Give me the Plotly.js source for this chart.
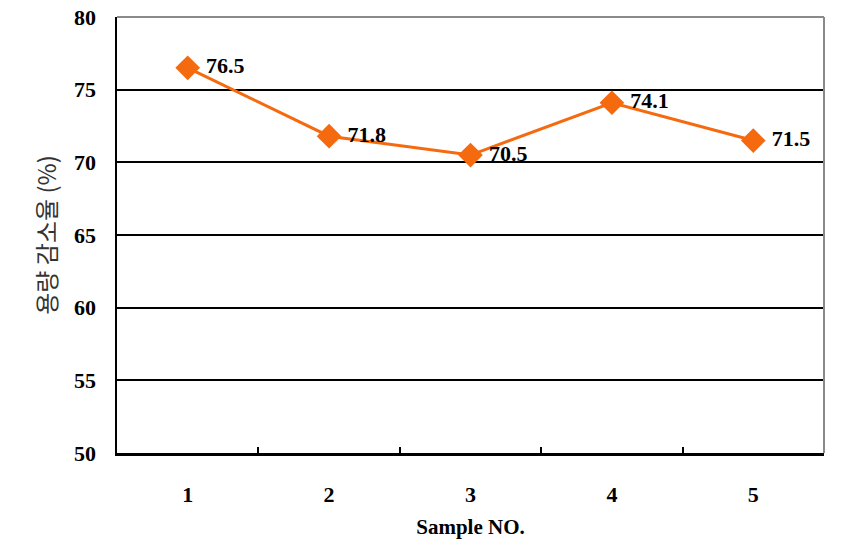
<!DOCTYPE html>
<html>
<head>
<meta charset="utf-8">
<script src="https://cdn.plot.ly/plotly-3.0.1.min.js"></script>
<style>html,body{margin:0;padding:0;background:#fff;}#chart{width:843px;height:552px;}</style>
</head>
<body>
<div id="chart"></div>
<script>
const samples = ["1", "2", "3", "4", "5"];
const reduction = [76.5, 71.8, 70.5, 74.1, 71.5];
const labels = ["76.5", "71.8", "70.5", "74.1", "71.5"];
const yTicks = [50, 55, 60, 65, 70, 75, 80];

const serif = "'Liberation Serif', 'Times New Roman', serif";

const trace = {
  x: samples,
  y: reduction,
  type: "scatter",
  mode: "lines+markers+text",
  text: labels,
  texttemplate: " %{text}",
  textposition: "middle right",
  textfont: {family: serif, size: 22, color: "#000", weight: "bold"},
  line: {color: "#F56A0F", width: 3},
  marker: {symbol: "diamond", size: 19, color: "#F56A0F"},
  cliponaxis: false,
  hoverinfo: "none"
};

const layout = {
  width: 843,
  height: 552,
  margin: {l: 117, r: 19, t: 17, b: 99},
  paper_bgcolor: "#fff",
  plot_bgcolor: "#fff",
  showlegend: false,
  xaxis: {
    type: "category",
    range: [-0.5, 4.5],
    tickson: "boundaries",
    ticks: "inside",
    ticklen: 6,
    tickwidth: 2,
    tickcolor: "#000",
    showgrid: false,
    showline: true,
    linecolor: "#000",
    linewidth: 2.5,
    zeroline: false,
    ticklabelstandoff: 20,
    tickfont: {family: serif, size: 22, color: "#000", weight: "bold"},
    title: {text: "Sample NO.", font: {family: serif, size: 21, color: "#000", weight: "bold"}, standoff: 14}
  },
  yaxis: {
    range: [50, 80],
    tickvals: yTicks,
    ticks: "",
    showgrid: true,
    gridcolor: "#000",
    gridwidth: 2,
    showline: true,
    linecolor: "#000",
    linewidth: 2.5,
    zeroline: false,
    ticklabelstandoff: 14,
    tickfont: {family: serif, size: 22, color: "#000", weight: "bold"},
    title: {text: "용량 감소율 (%)", font: {family: "'Noto Sans CJK KR', sans-serif", size: 24, color: "#333"}, standoff: 11}
  },
  shapes: [
    {type: "line", xref: "paper", yref: "paper", x0: 0, x1: 1, y0: 1, y1: 1, line: {color: "#8a8a8a", width: 2}},
    {type: "line", xref: "paper", yref: "paper", x0: 1, x1: 1, y0: 0, y1: 1, line: {color: "#8a8a8a", width: 2}}
  ]
};

Plotly.newPlot("chart", [trace], layout, {displayModeBar: false, staticPlot: true});
</script>
</body>
</html>
